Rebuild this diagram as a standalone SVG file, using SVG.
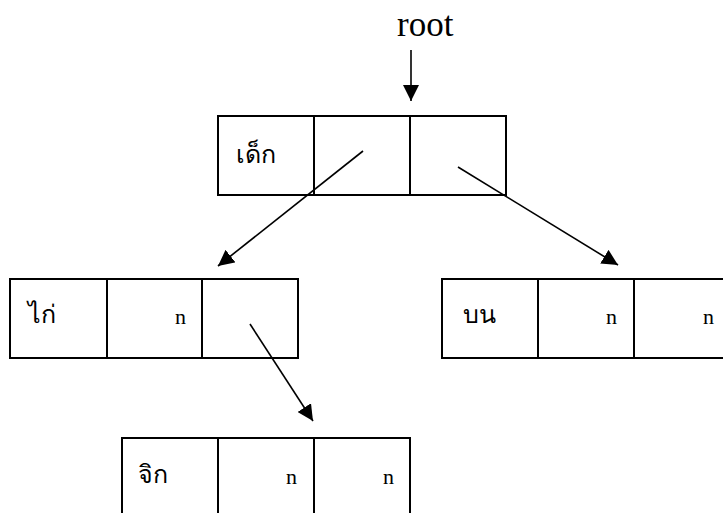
<svg xmlns="http://www.w3.org/2000/svg" width="723" height="513" viewBox="0 0 723 513">
  <style>
    .cell { fill: #ffffff; stroke: #000000; stroke-width: 2; }
    .link { stroke: #000000; stroke-width: 1.6; fill: none; marker-end: url(#head); }
    .key { font-family: "Liberation Serif", "Noto Sans", serif; font-size: 25px; fill: #000; }
    .keysans { font-family: "Noto Sans", "DejaVu Sans", sans-serif; font-size: 25px; fill: #000; }
    .nil { font-family: "Liberation Serif", serif; font-size: 22px; fill: #000; }
    .label { font-family: "Liberation Serif", serif; font-size: 35px; fill: #000; }
  </style>
  <defs>
    <marker id="head" viewBox="0 0 16 16" refX="16" refY="8" markerWidth="16" markerHeight="16" markerUnits="userSpaceOnUse" orient="auto">
      <path d="M0,0 L16,8 L0,16 Z" fill="#000"/>
    </marker>
  </defs>

  <rect width="723" height="513" fill="#ffffff"/>

  <text class="label" x="397" y="36">root</text>

  <!-- node: เด็ก -->
  <g id="node-dek">
    <rect class="cell" x="218" y="116" width="96" height="79"/>
    <rect class="cell" x="314" y="116" width="96" height="79"/>
    <rect class="cell" x="410" y="116" width="96" height="79"/>
    <text class="keysans" x="236" y="163">เด็ก</text>
  </g>

  <!-- node: ไก่ -->
  <g id="node-kai">
    <rect class="cell" x="10" y="279" width="97" height="79"/>
    <rect class="cell" x="107" y="279" width="95" height="79"/>
    <rect class="cell" x="202" y="279" width="96" height="79"/>
    <text class="key" x="28" y="323">ไก่</text>
    <text class="nil" x="175" y="324">n</text>
  </g>

  <!-- node: บน -->
  <g id="node-bon">
    <rect class="cell" x="442" y="279" width="96" height="79"/>
    <rect class="cell" x="538" y="279" width="96" height="79"/>
    <rect class="cell" x="634" y="279" width="96" height="79"/>
    <text class="key" x="463" y="323">บน</text>
    <text class="nil" x="606" y="324">n</text>
    <text class="nil" x="703" y="324">n</text>
  </g>

  <!-- node: จิก -->
  <g id="node-chik">
    <rect class="cell" x="122" y="438" width="96" height="80"/>
    <rect class="cell" x="218" y="438" width="96" height="80"/>
    <rect class="cell" x="314" y="438" width="96" height="80"/>
    <text class="key" x="138" y="483">จิก</text>
    <text class="nil" x="286" y="484">n</text>
    <text class="nil" x="383" y="484">n</text>
  </g>

  <!-- connectors -->
  <g id="connectors">
    <line class="link" x1="411" y1="50" x2="411" y2="101"/>
    <line class="link" x1="363" y1="151" x2="218" y2="266"/>
    <line class="link" x1="458" y1="167" x2="618" y2="265"/>
    <line class="link" x1="250" y1="324" x2="313" y2="421"/>
  </g>
</svg>
